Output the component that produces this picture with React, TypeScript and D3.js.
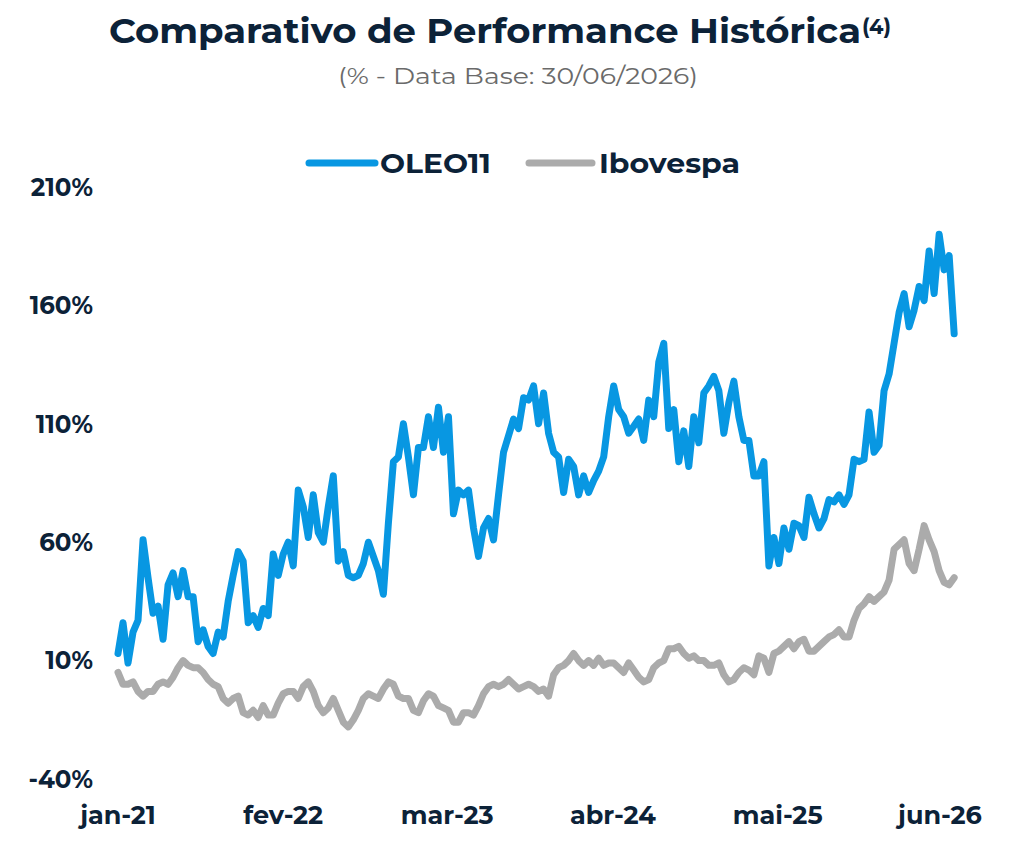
import * as d3 from "d3";

// values in %, sampled every 12 days starting 2021-01-01
const startDate = new Date(2021, 0, 1);
const stepDays = 12;

const oleo11 = [
  13, 26, 9, 22, 27, 61, 45, 30, 33, 19,
  42, 47, 37, 48, 37, 37, 18, 23, 16, 13,
  22, 20, 35, 46, 56, 52, 26, 29, 24, 32,
  29, 55, 46, 55, 60, 50, 82, 75, 62, 80,
  64, 60, 75, 88, 52, 56, 46, 45, 46, 51,
  60, 54, 48, 38, 68, 94, 96, 110, 96, 80,
  100, 100, 113, 100, 117, 98, 113, 72, 82, 80,
  82, 66, 54, 66, 70, 61, 80, 98, 105, 112,
  108, 121, 120, 126, 110, 123, 106, 98, 96, 81,
  95, 92, 80, 88, 81, 86, 90, 96, 113, 126,
  116, 113, 106, 109, 112, 103, 120, 113, 136, 144,
  108, 116, 94, 107, 92, 113, 102, 123, 126, 130,
  124, 106, 119, 128, 113, 103, 103, 88, 88, 94,
  50, 62, 51, 66, 57, 68, 67, 62, 79, 72,
  66, 70, 78, 77, 80, 76, 80, 95, 94, 95,
  115, 98, 101, 124, 131, 144, 157, 165, 151, 158,
  168, 162, 183, 165, 190, 175, 181, 148
];

const ibovespa = [
  5, 0, 0, 1, -3, -5, -3, -3, 0, 1,
  0, 3, 7, 10, 8, 7, 7, 5, 2, 0,
  -1, -6, -8, -6, -5, -12, -13, -11, -14, -9,
  -13, -13, -8, -4, -3, -3, -6, -1, 1, -3,
  -9, -12, -10, -6, -11, -16, -18, -15, -11, -6,
  -4, -5, -6, -2, 1, 0, -5, -6, -6, -11,
  -12, -7, -4, -5, -9, -10, -11, -16, -16, -12,
  -12, -13, -9, -4, -1, 0, -1, 0, 2, 0,
  -2, -1, 0, -1, -3, -2, -5, 4, 7, 8,
  10, 13, 10, 8, 10, 8, 11, 8, 9, 9,
  7, 5, 9, 6, 3, 1, 2, 7, 9, 10,
  15, 15, 16, 13, 11, 12, 10, 10, 8, 8,
  9, 4, 1, 2, 5, 7, 6, 4, 12, 11,
  5, 13, 14, 16, 18, 15, 18, 19, 14, 14,
  16, 18, 20, 21, 23, 20, 20, 27, 32, 34,
  37, 35, 37, 39, 44, 57, 59, 61, 51, 48,
  57, 67, 61, 56, 48, 43, 42, 45
];

const yTicks = [-40, 10, 60, 110, 160, 210];
const xTickDates = ["2021-01-01", "2022-02-01", "2023-03-01", "2024-04-01", "2025-05-01", "2026-06-01"];
const xTickLabels = ["jan-21", "fev-22", "mar-23", "abr-24", "mai-25", "jun-26"];

const seriesNames = ["OLEO11", "Ibovespa"];
const seriesColors = ["#0897E2", "#ABABAB"];

const navy = "#0C2238";
const font = "Montserrat, 'DejaVu Sans', sans-serif";

export default function App() {
  const width = 1026;
  const height = 851;

  const x = d3.scaleTime()
    .domain([startDate, new Date(2026, 5, 30)])
    .range([118, 955]);

  const y = d3.scaleLinear()
    .domain([-40, 210])
    .range([779, 187]);

  const toPoints = (vals: number[]) =>
    vals.map((v, i) => ({ date: d3.timeDay.offset(startDate, i * stepDays), value: v }));

  const line = d3.line<{ date: Date, value: number }>()
    .x(d => x(d.date))
    .y(d => y(d.value));

  const parse = d3.timeParse("%Y-%m-%d");

  return (
    <svg width={width} height={height}
      style={{ position: "absolute", left: 0, top: 0, background: "#fff" }}>
      <text x={109} y={43} fontFamily={font} fontWeight={700} fontSize={34}
        fill={navy} textLength={752} lengthAdjust="spacingAndGlyphs">
        Comparativo de Performance Histórica
      </text>
      <text x={862} y={34} fontFamily={font} fontWeight={700} fontSize={21}
        fill={navy}>(4)</text>
      <text x={338} y={84} fontFamily={font} fontWeight={400} fontSize={22}
        fill="#6A6A6A" textLength={360} lengthAdjust="spacingAndGlyphs">
        (% - Data Base: 30/06/2026)
      </text>

      {/* legend */}
      <g>
        <line x1={309} x2={375} y1={163} y2={163} stroke={seriesColors[0]}
          strokeWidth={7} strokeLinecap="round" />
        <text x={380} y={173} fontFamily={font} fontWeight={700} fontSize={27}
          fill={navy} textLength={111} lengthAdjust="spacingAndGlyphs">{seriesNames[0]}</text>
        <line x1={529} x2={592} y1={163} y2={163} stroke={seriesColors[1]}
          strokeWidth={7} strokeLinecap="round" />
        <text x={599} y={173} fontFamily={font} fontWeight={700} fontSize={27}
          fill={navy} textLength={141} lengthAdjust="spacingAndGlyphs">{seriesNames[1]}</text>
      </g>

      {/* y axis labels */}
      <g fontFamily={font} fontWeight={700} fontSize={24.5} fill={navy} textAnchor="end">
        {yTicks.map(t => (
          <text key={t} x={93} y={y(t)} dy="0.36em">{t}%</text>
        ))}
      </g>

      {/* x axis labels */}
      <g fontFamily={font} fontWeight={700} fontSize={25.5} fill={navy} textAnchor="middle">
        {xTickDates.map((d, i) => (
          <text key={d} x={x(parse(d) as Date) - (i === 5 ? 3 : 0)} y={824}>{xTickLabels[i]}</text>
        ))}
      </g>

      <path fill="none" stroke={seriesColors[1]} strokeWidth={7}
        strokeLinejoin="round" strokeLinecap="round" d={line(toPoints(ibovespa)) || ""} />
      <path fill="none" stroke={seriesColors[0]} strokeWidth={7}
        strokeLinejoin="round" strokeLinecap="round" d={line(toPoints(oleo11)) || ""} />
    </svg>
  );
}
